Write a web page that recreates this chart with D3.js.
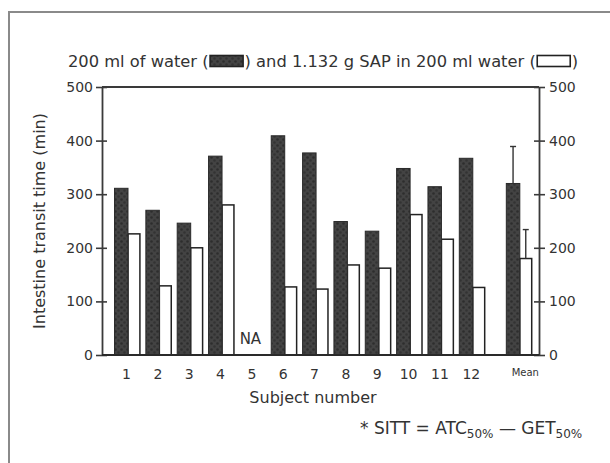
<!DOCTYPE html>
<html>
<head>
<meta charset="utf-8">
<script src="https://cdn.jsdelivr.net/npm/d3@7"></script>
<style>
  html, body { margin: 0; padding: 0; background: #fff; }
  svg { display: block; }
  text { font-family: "DejaVu Sans", "Liberation Sans", sans-serif; fill: #333; }
</style>
</head>
<body>
<svg id="chart" width="610" height="463"></svg>
<script>
// Subjects (subject 5 has no data: NA)
const subjects = ["1", "2", "3", "4", "5", "6", "7", "8", "9", "10", "11", "12"];
const subjectPos = [1, 2, 3, 4, 5, 6, 7, 8, 9, 10, 11, 12];
// Small intestine transit time (min)
const water = [311, 270, 246, 371, null, 409, 377, 249, 231, 348, 314, 367];
const sap   = [226, 129, 200, 280, null, 127, 123, 168, 162, 262, 216, 126];
// Group mean with upper error bar
const meanPos = 13.5;
const meanLabel = "Mean";
const meanWater = 320, meanWaterErr = 389;
const meanSap = 180, meanSapErr = 234;
const yTicks = [0, 100, 200, 300, 400, 500];

const svg = d3.select("#chart");

// Figure frame (only left and top edges fall inside the view)
svg.append("rect")
  .attr("x", 9).attr("y", 12).attr("width", 700).attr("height", 600)
  .attr("fill", "none").attr("stroke", "#8a8a8a").attr("stroke-width", 2);

// Mottled fill for the water bars
const defs = svg.append("defs");
const pat = defs.append("pattern")
  .attr("id", "mottle").attr("patternUnits", "userSpaceOnUse")
  .attr("width", 6).attr("height", 6);
pat.append("rect").attr("width", 6).attr("height", 6).attr("fill", "#434343");
pat.append("circle").attr("cx", 1.5).attr("cy", 1.5).attr("r", 1.3).attr("fill", "#2d2d2d");
pat.append("circle").attr("cx", 4.5).attr("cy", 4.5).attr("r", 1.3).attr("fill", "#333");

const plotL = 102, plotR = 539, plotT = 87, plotB = 355;
const x = d3.scaleLinear().domain([1, meanPos]).range([128, 519.8]);
const y = d3.scaleLinear().domain([0, 500]).range([plotB, plotT]);
const step = x(2) - x(1);
const wDark = step * 0.43, wLight = step * 0.38;

// Title with inline legend swatches
const title = svg.append("g").attr("class", "title");
const tY = 67, tFont = 16.3;
let cx = 68;
function tText(str) {
  const t = title.append("text").attr("x", cx).attr("y", tY)
    .attr("font-size", tFont).text(str);
  cx += t.node().getComputedTextLength();
}
function tSwatch(fill) {
  title.append("rect").attr("x", cx + 1.5).attr("y", tY - 11.5)
    .attr("width", 33).attr("height", 11)
    .attr("fill", fill).attr("stroke", "#222").attr("stroke-width", 1.6);
  cx += 36;
}
tText("200 ml of water (");
tSwatch("url(#mottle)");
tText(") and 1.132 g SAP in 200 ml water (");
tSwatch("#fff");
tText(")");

// Top frame line
svg.append("line").attr("x1", plotL).attr("x2", plotR).attr("y1", plotT).attr("y2", plotT)
  .attr("stroke", "#3a3a3a").attr("stroke-width", 1.8);

// Axes
function styleAxis(g, dir) {
  g.select(".domain").attr("stroke", "#3a3a3a").attr("stroke-width", 1.8);
  g.selectAll(".tick line").attr("stroke", "#3a3a3a").attr("stroke-width", 1.6)
    .attr("x1", -dir * 5).attr("x2", dir * 6);
  g.selectAll(".tick text").attr("font-size", 14).attr("fill", "#333")
    .attr("font-family", "DejaVu Sans, Liberation Sans, sans-serif");
}
const yL = svg.append("g").attr("transform", `translate(${plotL},0)`)
  .call(d3.axisLeft(y).tickValues(yTicks).tickSize(5).tickPadding(4).tickSizeOuter(0));
styleAxis(yL, -1);
const yR = svg.append("g").attr("transform", `translate(${plotR},0)`)
  .call(d3.axisRight(y).tickValues(yTicks).tickSize(6).tickPadding(4).tickSizeOuter(0));
styleAxis(yR, 1);

// Bars
const rows = subjectPos.map((p, i) => ({ p, w: water[i], s: sap[i] })).filter(d => d.w != null);
rows.push({ p: meanPos, w: meanWater, s: meanSap });

svg.append("g").selectAll("rect").data(rows).join("rect")
  .attr("x", d => x(d.p)).attr("width", wLight)
  .attr("y", d => y(d.s)).attr("height", d => y(0) - y(d.s))
  .attr("fill", "#fff").attr("stroke", "#222").attr("stroke-width", 1.5);
svg.append("g").selectAll("rect").data(rows).join("rect")
  .attr("x", d => x(d.p) - wDark).attr("width", wDark)
  .attr("y", d => y(d.w)).attr("height", d => y(0) - y(d.w))
  .attr("fill", "url(#mottle)").attr("stroke", "#2a2a2a").attr("stroke-width", 1);

// Error bars on the means
const errs = [
  { cx: x(meanPos) - wDark / 2, v0: meanWater, v1: meanWaterErr },
  { cx: x(meanPos) + wLight / 2, v0: meanSap, v1: meanSapErr }
];
const eg = svg.append("g").attr("stroke", "#333").attr("stroke-width", 1.4);
errs.forEach(e => {
  eg.append("line").attr("x1", e.cx).attr("x2", e.cx).attr("y1", y(e.v0)).attr("y2", y(e.v1));
  eg.append("line").attr("x1", e.cx - 3).attr("x2", e.cx + 3).attr("y1", y(e.v1)).attr("y2", y(e.v1));
});

// Baseline
svg.append("line").attr("x1", plotL).attr("x2", plotR).attr("y1", plotB).attr("y2", plotB)
  .attr("stroke", "#2a2a2a").attr("stroke-width", 2);

// Missing subject
svg.append("text").attr("x", x(5) - 3).attr("y", 344).attr("text-anchor", "middle")
  .attr("font-size", 15).text("NA");

// Subject labels
const xa = svg.append("g").attr("transform", `translate(0,${plotB})`)
  .call(d3.axisBottom(x).tickValues(subjectPos.concat([meanPos])).tickSize(0).tickPadding(14)
    .tickFormat((d, i) => i < subjects.length ? subjects[i] : meanLabel));
xa.select(".domain").remove();
xa.selectAll(".tick text").attr("font-size", 14).attr("fill", "#333")
  .attr("font-family", "DejaVu Sans, Liberation Sans, sans-serif")
  .attr("dx", -2);
xa.selectAll(".tick").filter(d => d === meanPos).select("text")
  .attr("font-size", 10).attr("dx", 5);

// Axis titles
svg.append("text").attr("x", 313).attr("y", 403).attr("text-anchor", "middle")
  .attr("font-size", 16).text("Subject number");
svg.append("text").attr("transform", "translate(45,221) rotate(-90)")
  .attr("text-anchor", "middle").attr("font-size", 16).text("Intestine transit time (min)");

// Footnote
const fn = svg.append("text").attr("x", 360).attr("y", 434).attr("font-size", 17);
fn.append("tspan").text("* SITT = ATC");
fn.append("tspan").attr("font-size", 12).attr("dy", 4).text("50%");
fn.append("tspan").attr("dy", -4).text(" \u2014 GET");
fn.append("tspan").attr("font-size", 12).attr("dy", 4).text("50%");
</script>
</body>
</html>
